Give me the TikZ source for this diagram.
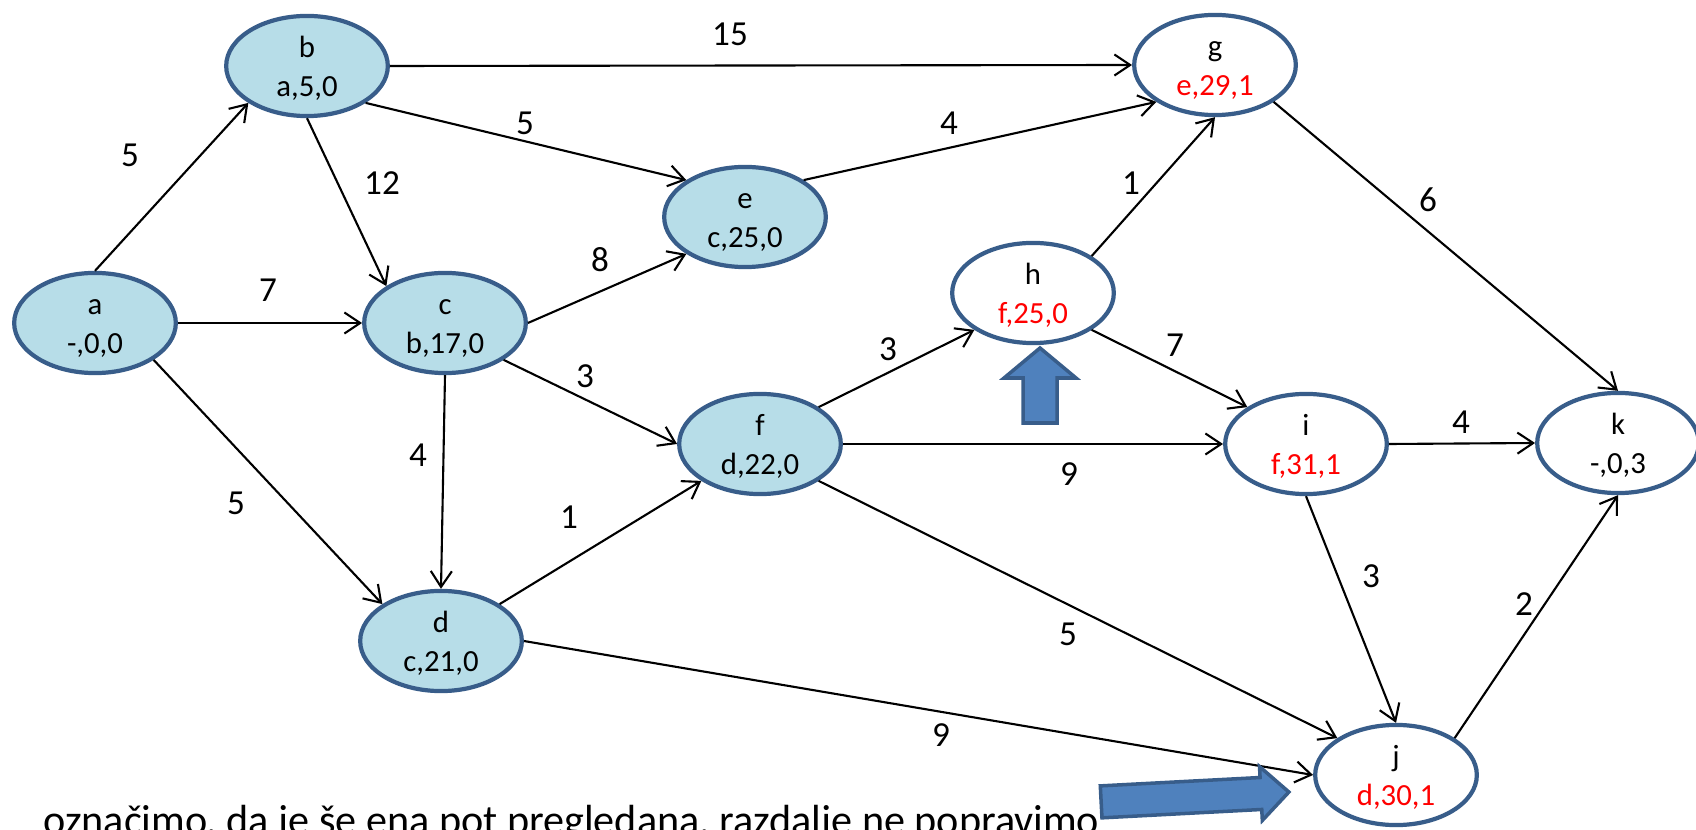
\documentclass[tikz,border=0pt]{standalone}
\usepackage{fontspec}
\setmainfont{Carlito}
\usepackage{xcolor}
\usepackage{tikz}
\usetikzlibrary{shapes, arrows.meta, positioning}

\definecolor{nodefill}{HTML}{B7DDE8}
\definecolor{nodeline}{HTML}{385D8A}
\definecolor{shapefill}{HTML}{4F81BD}

% two text lines of a vertex, with fixed line positions
\newcommand{\vtx}[2]{\rule{0pt}{15pt}#1\\#2\rule[-1.9pt]{0pt}{1.9pt}}

\begin{document}
\begin{tikzpicture}[x=0.02cm, y=-0.02cm,
        vertex/.style={ellipse, draw=nodeline, line width=2.4pt, fill=white, minimum width=92pt, minimum height=57pt, inner sep=0pt, align=center, font=\fontsize{17.5}{22}\selectfont},
        visited/.style={vertex, fill=nodefill},
        arrow/.style={-{Straight Barb[length=9pt, width=12pt]}, line width=1.2pt},
        weight/.style={font=\fontsize{20}{24}\selectfont, inner sep=0pt},
        note/.style={font=\fontsize{24}{29}\selectfont, inner sep=0pt},
        bigarrow/.style={draw=nodeline, line width=2pt, fill=shapefill, line join=miter}
        ]
        \useasboundingbox (0,0) rectangle (1696,830);
        \clip (0,0) rectangle (1696,830);
        
        % vertices
        \node[visited] (a) at (95,323) {\vtx{a}{-,0,0}};
        \node[visited] (b) at (307,66) {\vtx{b}{a,5,0}};
        \node[visited] (c) at (445,323) {\vtx{c}{b,17,0}};
        \node[visited] (d) at (441,641) {\vtx{d}{c,21,0}};
        \node[visited] (e) at (745,217) {\vtx{e}{c,25,0}};
        \node[visited] (f) at (760,444) {\vtx{f}{d,22,0}};
        \node[vertex] (g) at (1215,65) {\vtx{g}{\textcolor{red}{e,29,1}}};
        \node[vertex] (h) at (1033,293) {\vtx{h}{\textcolor{red}{f,25,0}}};
        \node[vertex] (i) at (1306,444) {\vtx{i}{\textcolor{red}{f,31,1}}};
        \node[vertex] (j) at (1396,775) {\vtx{j}{\textcolor{red}{d,30,1}}};
        \node[vertex] (k) at (1618,443) {\vtx{k}{-,0,3}};
        
        % edges
        \draw[arrow] (a.north) -- (b.south west);
        \draw[arrow] (a.east) -- (c.west);
        \draw[arrow] (a.south east) -- (d.north west);
        \draw[arrow] (b.east) -- (g.west);
        \draw[arrow] (b.south east) -- (e.north west);
        \draw[arrow] (b.south) -- (c.north west);
        \draw[arrow] (c.east) -- (e.south west);
        \draw[arrow] (c.south east) -- (f.west);
        \draw[arrow] (c.south) -- (d.north);
        \draw[arrow] (d.north east) -- (f.south west);
        \draw[arrow] (d.east) -- (j.west);
        \draw[arrow] (e.north east) -- (g.south west);
        \draw[arrow] (f.north east) -- (h.south west);
        \draw[arrow] (f.east) -- (i.west);
        \draw[arrow] (f.south east) -- (j.north west);
        \draw[arrow] (h.north east) -- (g.south);
        \draw[arrow] (h.south east) -- (i.north west);
        \draw[arrow] (g.south east) -- (k.north);
        \draw[arrow] (i.east) -- (k.west);
        \draw[arrow] (i.south) -- (j.north);
        \draw[arrow] (j.north east) -- (k.south);
        
        % weights
        \node[weight] (wab) at (130,155) {5};
        \node[weight] (wac) at (268,290) {7};
        \node[weight] (wad) at (236,503) {5};
        \node[weight] (wbg) at (730,34) {15};
        \node[weight] (wbe) at (525,123) {5};
        \node[weight] (wbc) at (382,183) {12};
        \node[weight] (wce) at (600,260) {8};
        \node[weight] (wcf) at (585,376) {3};
        \node[weight] (wcd) at (418,455) {4};
        \node[weight] (wdf) at (569,517) {1};
        \node[weight] (wdj) at (941,735) {9};
        \node[weight] (weg) at (949,123) {4};
        \node[weight] (wfh) at (888,349) {3};
        \node[weight] (wfi) at (1069,474) {9};
        \node[weight] (wfj) at (1068,634) {5};
        \node[weight] (whg) at (1131,183) {1};
        \node[weight] (whi) at (1175,345) {7};
        \node[weight] (wgk) at (1428,200) {6};
        \node[weight] (wik) at (1461,422) {4};
        \node[weight] (wij) at (1371,576) {3};
        \node[weight] (wjk) at (1524,604) {2};
        
        % pointers
        \draw[bigarrow] (1040,348) -- (1076,378) -- (1057,378) -- (1057,423) -- (1023,423) -- (1023,378) -- (1004,378) -- cycle;
        \draw[bigarrow, rotate around={3:(1194,797)}] (1101,781) -- (1261,781) -- (1261,770) -- (1289,797) -- (1261,824) -- (1261,813) -- (1101,813) -- cycle;
        
        \node[note, anchor=base west] (remark) at (43,834) {označimo, da je še ena pot pregledana, razdalje ne popravimo};
        
    \end{tikzpicture}
\end{document}
